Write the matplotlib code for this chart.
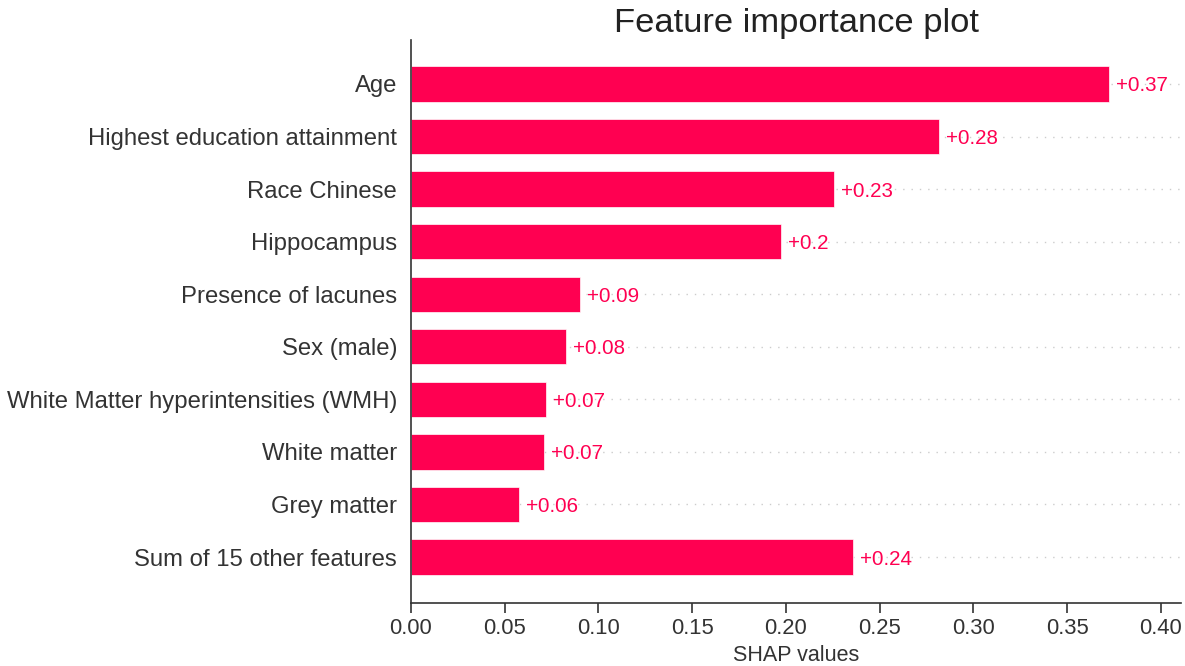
import matplotlib
matplotlib.use("Agg")
import matplotlib.pyplot as plt
import numpy as np

plt.rcParams['font.family'] = ['Liberation Sans', 'DejaVu Sans']

features = ["Age", "Highest education attainment", "Race Chinese", "Hippocampus",
            "Presence of lacunes", "Sex (male)", "White Matter hyperintensities (WMH)",
            "White matter", "Grey matter", "Sum of 15 other features"]
values = [0.3723, 0.2816, 0.2256, 0.1973, 0.0901, 0.0827, 0.0720, 0.0709, 0.0576, 0.2357]
labels = ["+0.37", "+0.28", "+0.23", "+0.2", "+0.09", "+0.08", "+0.07", "+0.07", "+0.06", "+0.24"]
xticks = [0.0, 0.05, 0.10, 0.15, 0.20, 0.25, 0.30, 0.35, 0.40]

color = "#ff0051"
fig = plt.figure(figsize=(11.85, 6.66), dpi=100)
ax = fig.add_axes([411/1185, 63/666, 770/1185, 563/666])

y = np.arange(len(features))
for yi in y:
    ax.axhline(yi, color="#cccccc", lw=1.0, dashes=(1, 5), zorder=-1)
ax.barh(y, values, height=0.67, color=color, edgecolor=(1, 1, 1, 0.8), linewidth=0.6)
for yi, v, lab in zip(y, values, labels):
    ax.text(v + 0.0037, yi, lab, ha="left", va="center_baseline", color=color, fontsize=14.8)

ax.set_yticks(y)
ax.set_yticklabels(features, fontsize=17.2, color="#333333")
ax.set_ylim(len(features) - 1 + 0.875, -0.837)
ax.set_xlim(0, 0.4107)
ax.set_xticks(xticks)
ax.set_xticklabels([f"{t:.2f}" for t in xticks], fontsize=15.8, color="#333333")
ax.tick_params(axis='y', length=0, pad=10)
ax.tick_params(axis='x', length=7, width=1.2, color="#333333", pad=4)
ax.spines['top'].set_visible(False)
ax.spines['right'].set_visible(False)
ax.spines['left'].set_color("#333333")
ax.spines['bottom'].set_color("#333333")
ax.spines['left'].set_linewidth(1.2)
ax.spines['bottom'].set_linewidth(1.2)
ax.set_xlabel("SHAP values", fontsize=15.5, color="#333333", labelpad=4)
ax.set_title("Feature importance plot", fontsize=24.8, color="#222222", pad=6)

fig.savefig("out.png", dpi=100)
